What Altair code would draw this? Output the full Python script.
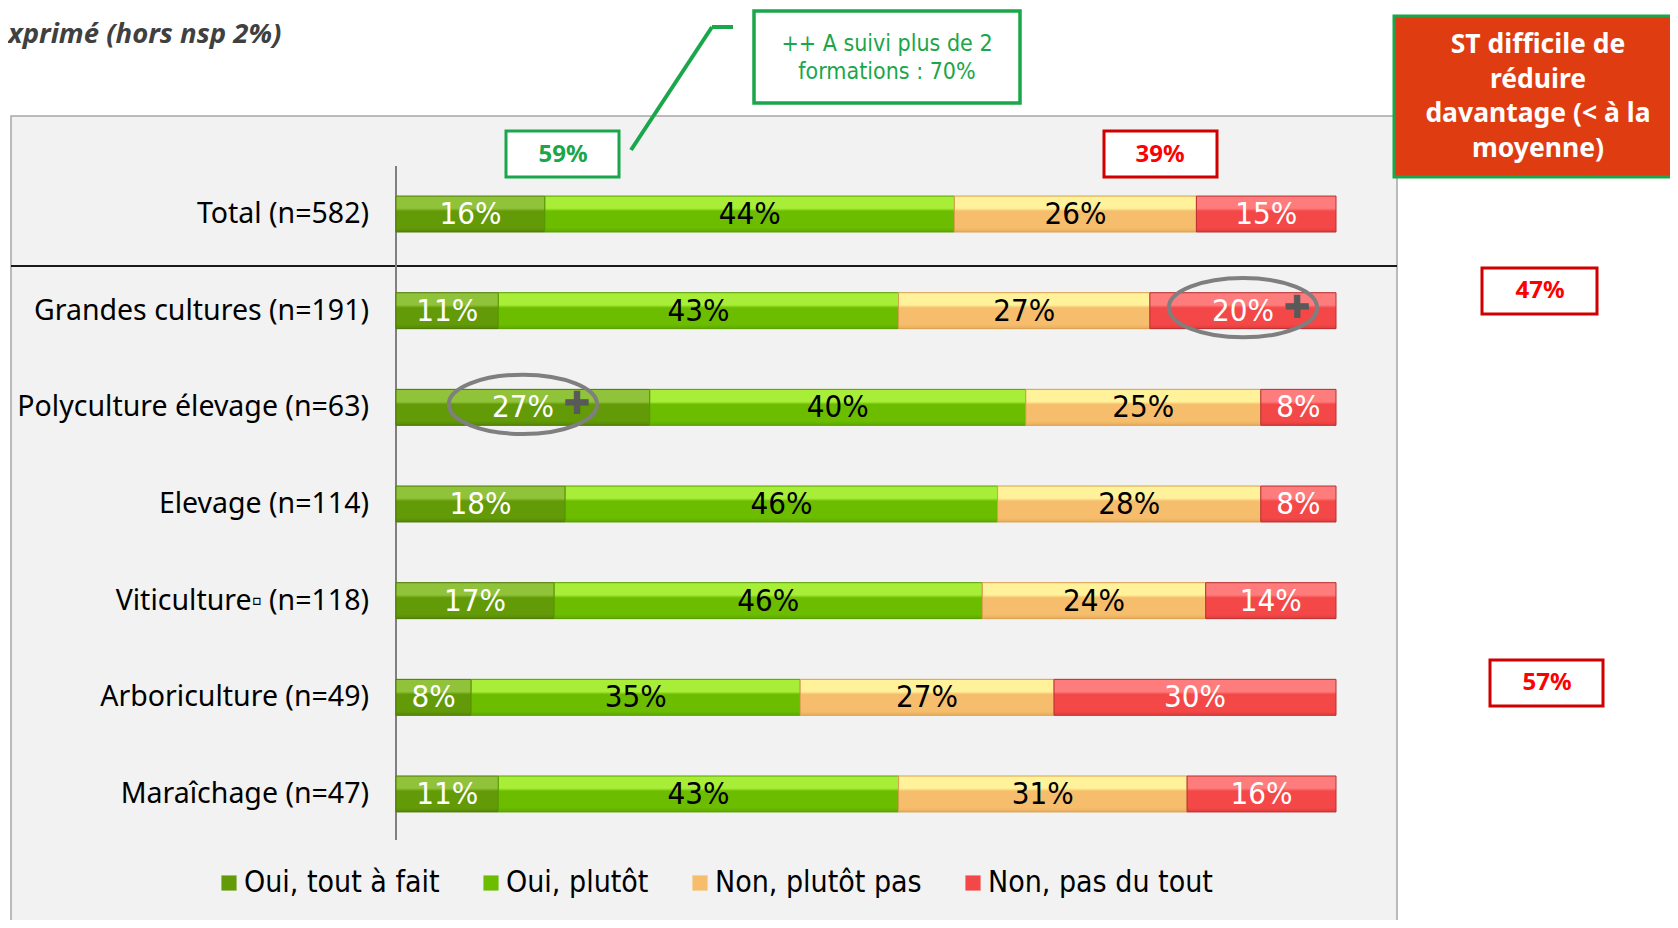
import altair as alt
import pandas as pd

# ---------------- data ----------------
categories = ["Total (n=582)", "Grandes cultures (n=191)", "Polyculture élevage (n=63)",
              "Elevage (n=114)", "Viticulture▫ (n=118)", "Arboriculture (n=49)", "Maraîchage (n=47)"]
series = ["Oui, tout à fait", "Oui, plutôt", "Non, plutôt pas", "Non, pas du tout"]
tout_a_fait = [16, 11, 27, 18, 17, 8, 11]
plutot = [44, 43, 40, 46, 46, 35, 43]
plutot_pas = [26, 27, 25, 28, 24, 27, 31]
pas_du_tout = [15, 20, 8, 8, 14, 30, 16]
highlights = [("Grandes cultures (n=191)", "Non, pas du tout"),
              ("Polyculture élevage (n=63)", "Oui, tout à fait")]

# ---------------- styles ----------------
base_colors = ["#639a08", "#6cbd00", "#f6be6c", "#f44848"]
light_colors = ["#90c23a", "#a8ee38", "#fff29a", "#ff7c7c"]
bottom_colors = ["#568806", "#5fa800", "#e9ad5c", "#e03c3c"]
edge_colors = ["#4e7a06", "#58a000", "#d9a050", "#b83030"]
GREEN = "#1aa64a"
RED_T = "#ff0000"
RED_B = "#d00000"
NARROW = "Liberation Sans Narrow, DejaVu Sans Condensed, Roboto"

cols = [tout_a_fait, plutot, plutot_pas, pas_du_tout]
rows = []
for ci, cat in enumerate(categories):
    vals = [c[ci] for c in cols]
    tot = sum(vals)
    cum = 0
    for si, s in enumerate(series):
        start = cum / tot * 100
        cum += vals[si]
        end = cum / tot * 100
        rows.append(dict(cat=cat, series=s, order=si, value=vals[si],
                         label=f"{vals[si]}%", start=start, end=end, mid=(start + end) / 2,
                         hl=(cat, s) in highlights))
df = pd.DataFrame(rows)
one = pd.DataFrame({"a": [0]})

xs = alt.Scale(domain=[0, 100], range=[388, 1328])
ys = alt.Scale(domain=categories, range=[157.7, 834.3], paddingInner=0.628, paddingOuter=0.314)
X = lambda f: alt.X(f, scale=xs, axis=None)
Y = alt.Y("cat:N", scale=ys, axis=None, sort=categories)


def rect(x, y, x2, y2, fill, stroke=None, sw=0):
    kw = dict(fill=fill)
    if stroke:
        kw.update(stroke=stroke, strokeWidth=sw)
    return alt.Chart(one).mark_rect(**kw).encode(
        x=alt.value(x), x2=alt.value(x2), y=alt.value(y), y2=alt.value(y2))


def text(t, x, y, **kw):
    return alt.Chart(one).mark_text(text=t, baseline="middle", **kw).encode(
        x=alt.value(x), y=alt.value(y))


def rule(x, y, x2, y2, color, w):
    return alt.Chart(one).mark_rule(color=color, strokeWidth=w).encode(
        x=alt.value(x), x2=alt.value(x2), y=alt.value(y), y2=alt.value(y2))


layers = []
# panel
layers.append(rect(3, 108, 1389, 940, "#f2f2f2", "#a6a6a6", 1.5))
layers.append(rule(3, 258, 1389, 258, "#1a1a1a", 2))
layers.append(rule(388, 158, 388, 832, "#808080", 2))

# base bars with legend
layers.append(alt.Chart(df).mark_bar().encode(
    x=X("start:Q"), x2="end:Q", y=Y,
    color=alt.Color("series:N", scale=alt.Scale(domain=series, range=base_colors),
                    legend=alt.Legend(title=None, orient="none", direction="horizontal",
                                      legendX=206, legendY=860, symbolType="square",
                                      symbolSize=230, symbolStrokeWidth=0, symbolOpacity=1,
                                      labelFont=NARROW, labelFontSize=30, labelColor="#000000",
                                      labelOffset=0, columnPadding=36, padding=0,
                                      labelLimit=400)),
))
# gradient overlay per series
for si, s in enumerate(series):
    grad = alt.LinearGradient(gradient="linear", x1=0, x2=0, y1=0, y2=1, stops=[
        alt.GradientStop(color=light_colors[si], offset=0),
        alt.GradientStop(color=light_colors[si], offset=0.34),
        alt.GradientStop(color=base_colors[si], offset=0.42),
        alt.GradientStop(color=base_colors[si], offset=0.88),
        alt.GradientStop(color=bottom_colors[si], offset=1)])
    layers.append(alt.Chart(df).transform_filter(alt.datum.series == s).mark_bar(
        color=grad, stroke=edge_colors[si], strokeWidth=1).encode(
        x=X("start:Q"), x2="end:Q", y=Y))

# value labels
layers.append(alt.Chart(df).mark_text(font=NARROW, fontSize=31, baseline="middle", dy=1).encode(
    x=X("mid:Q"), y=Y, text="label:N",
    color=alt.condition("datum.order == 0 || datum.order == 3", alt.value("white"), alt.value("black"))))

# highlight ellipses and plus signs
ell = "M -1 0 A 1 0.4 0 1 1 1 0 A 1 0.4 0 1 1 -1 0 Z"
hl = alt.Chart(df).transform_filter("datum.hl")
layers.append(hl.mark_point(shape=ell, size=22000, filled=False, stroke="#7f7f7f",
                            strokeWidth=4, opacity=1, yOffset=-3).encode(x=X("mid:Q"), y=Y))
layers.append(hl.mark_text(text="✚", font="DejaVu Sans", fontSize=32,
                           color="#595959", baseline="middle", xOffset=54, yOffset=-3).encode(
    x=X("mid:Q"), y=Y))

# category labels
layers.append(alt.Chart(pd.DataFrame({"cat": categories})).mark_text(
    align="right", baseline="middle", font="Noto Sans", fontSize=28.5, color="#000000").encode(
    x=alt.value(361), y=Y, text="cat:N"))

# top text
layers.append(text("xprimé (hors nsp 2%)", 0, 27, align="left", font="Noto Sans",
                   fontSize=27.5, fontStyle="italic", fontWeight="bold", color="#404040"))

# green annotation
layers.append(rule(623, 142, 704, 19, GREEN, 4))
layers.append(rule(704, 19, 725, 19, GREEN, 4))
layers.append(rect(746, 3, 1012, 95, "#ffffff", GREEN, 3.5))
layers.append(text(["++ A suivi plus de 2", "formations : 70%"], 879, 36, align="center",
                   font=NARROW, fontSize=23, color=GREEN, lineHeight=28))

# percentage boxes
layers.append(rect(498, 123, 611, 169, "#ffffff", GREEN, 3))
layers.append(text("59%", 555, 147, align="center", font="Noto Sans", fontWeight="bold",
                   fontSize=24, color=GREEN))
layers.append(rect(1096, 123, 1209, 169, "#ffffff", RED_B, 3))
layers.append(text("39%", 1152, 147, align="center", font="Noto Sans", fontWeight="bold",
                   fontSize=24, color=RED_T))
layers.append(rect(1474, 260, 1589, 306, "#ffffff", RED_B, 3))
layers.append(text("47%", 1532, 283, align="center", font="Noto Sans", fontWeight="bold",
                   fontSize=24, color=RED_T))
layers.append(rect(1482, 652, 1595, 698, "#ffffff", RED_B, 3))
layers.append(text("57%", 1539, 675, align="center", font="Noto Sans", fontWeight="bold",
                   fontSize=24, color=RED_T))

# right orange box
layers.append(rect(1386, 8, 1680, 169, "#e03c12", GREEN, 3))
layers.append(text(["ST difficile de", "réduire", "davantage (< à la", "moyenne)"], 1530, 37,
                   align="center", font="Noto Sans", fontWeight="bold", fontSize=26.5,
                   color="#ffffff", lineHeight=34.5))

chart = alt.layer(*layers).properties(
    width=1662, height=912, autosize=alt.AutoSizeParams(type="none"), padding=0,
    background="#ffffff",
).configure_view(stroke=None)

chart.save("out.html", embed_options={"renderer": "svg", "actions": False})
